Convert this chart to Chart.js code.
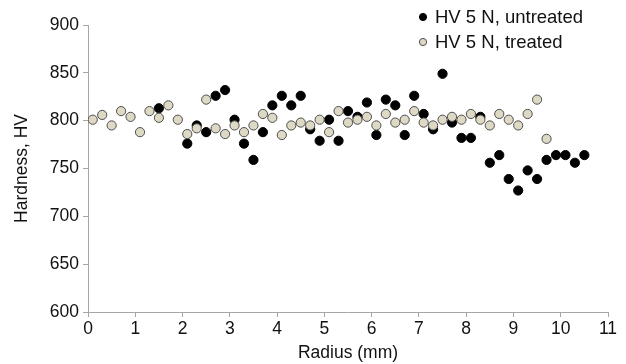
<!DOCTYPE html>
<html>
<head>
<meta charset="utf-8">
<script src="https://cdn.jsdelivr.net/npm/chart.js@4/dist/chart.umd.min.js"></script>
<style>
  html, body { margin: 0; padding: 0; background: #fff; }
  #wrap { width: 626px; height: 364px; }
</style>
</head>
<body>
<div id="wrap"><canvas id="hardness" width="626" height="364"></canvas></div>
<script>
//.. data
const treatedRadius = [0.1, 0.3, 0.5, 0.7, 0.9, 1.1, 1.3, 1.5, 1.7, 1.9, 2.1, 2.3, 2.5, 2.7, 2.9, 3.1, 3.3, 3.5, 3.7, 3.9,
    4.1, 4.3, 4.5, 4.7, 4.9, 5.1, 5.3, 5.5, 5.7, 5.9, 6.1, 6.3, 6.5, 6.7, 6.9, 7.1, 7.3, 7.5, 7.7, 7.9,
    8.1, 8.3, 8.5, 8.7, 8.9, 9.1, 9.3, 9.5, 9.7];
const treatedHV = [801, 806, 795, 810, 804, 788, 810, 803, 816, 801, 786, 792, 822, 792, 786, 795, 788, 795, 807, 803,
    785, 795, 798, 795, 801, 788, 810, 798, 801, 804, 795, 807, 798, 801, 810, 798, 795, 801, 804, 801,
    807, 801, 795, 807, 801, 795, 807, 822, 781];

const untreatedRadius = [1.5, 2.1, 2.3, 2.5, 2.7, 2.9, 3.1, 3.3, 3.5, 3.7, 3.9, 4.1, 4.3, 4.5, 4.7, 4.9, 5.1, 5.3, 5.5, 5.7,
    5.9, 6.1, 6.3, 6.5, 6.7, 6.9, 7.1, 7.3, 7.5, 7.7, 7.9, 8.1, 8.3, 8.5, 8.7, 8.9, 9.1, 9.3, 9.5, 9.7,
    9.9, 10.1, 10.3, 10.5];
const untreatedHV = [813, 776, 795, 788, 826, 832, 801, 776, 759, 788, 816, 826, 816, 826, 791, 779, 801, 779, 810, 804,
    819, 785, 822, 816, 785, 826, 807, 791, 849, 798, 782, 782, 804, 756, 764, 739, 727, 748, 739, 759,
    764, 764, 756, 764];

const xTicks = [0, 1, 2, 3, 4, 5, 6, 7, 8, 9, 10, 11];
const yTicks = [600, 650, 700, 750, 800, 850, 900];
const seriesNames = ['HV 5 N, untreated', 'HV 5 N, treated'];

const FONT = '"Liberation Sans", Arial, sans-serif';
const AXIS = '#a6a6a6';

function toPoints(xs, ys) {
    return xs.map(function (x, i) { return {x: x, y: ys[i]}; });
}

//.. legend drawn in the top right corner, over the plot
const cornerLegend = {
    id: 'cornerLegend',
    afterDraw: function (chart) {
        const ctx = chart.ctx;
        ctx.save();
        ctx.font = '18.5px ' + FONT;
        ctx.textBaseline = 'middle';
        ctx.textAlign = 'left';
        const rows = [chart.data.datasets[0], chart.data.datasets[1]];
        rows.forEach(function (ds, i) {
            const y = 17 + i * 25;
            ctx.beginPath();
            ctx.arc(423, y, 3.6, 0, Math.PI * 2);
            ctx.fillStyle = ds.backgroundColor;
            ctx.fill();
            ctx.lineWidth = 1;
            ctx.strokeStyle = ds.borderColor;
            ctx.stroke();
            ctx.fillStyle = '#111';
            ctx.fillText(ds.label, 435, y + 1);
        });
        ctx.restore();
    }
};

const ctx = document.getElementById('hardness').getContext('2d');
new Chart(ctx, {
    type: 'scatter',
    data: {
        datasets: [{
            label: seriesNames[0],
            data: toPoints(untreatedRadius, untreatedHV),
            backgroundColor: '#000000',
            borderColor: '#000000',
            borderWidth: 1,
            pointRadius: 4.6,
            order: 1
        }, {
            label: seriesNames[1],
            data: toPoints(treatedRadius, treatedHV),
            backgroundColor: '#ddd9c4',
            borderColor: '#4d4d4d',
            borderWidth: 1,
            pointRadius: 4.6,
            order: 0
        }]
    },
    options: {
        responsive: false,
        animation: false,
        layout: {padding: {left: 0, right: 18, top: 25, bottom: 0}},
        plugins: {legend: {display: false}, tooltip: {enabled: false}},
        scales: {
            x: {
                type: 'linear',
                min: 0, max: 11,
                afterBuildTicks: function (axis) {
                    axis.ticks = xTicks.map(function (v) { return {value: v}; });
                },
                afterFit: function (axis) { axis.height = 52; },
                border: {color: AXIS, width: 1},
                grid: {drawOnChartArea: false, color: AXIS, tickLength: 5},
                ticks: {color: '#111', font: {family: FONT, size: 17.5}, padding: 2, maxRotation: 0},
                title: {display: true, text: 'Radius (mm)', color: '#111',
                    font: {family: FONT, size: 17.5}, padding: {top: 0, bottom: 0}}
            },
            y: {
                min: 600, max: 900,
                afterBuildTicks: function (axis) {
                    axis.ticks = yTicks.map(function (v) { return {value: v}; });
                },
                afterFit: function (axis) { axis.width = 88; },
                border: {color: AXIS, width: 1},
                grid: {drawOnChartArea: false, color: AXIS, tickLength: 5},
                ticks: {color: '#111', font: {family: FONT, size: 17.5}, padding: 4},
                title: {display: true, text: 'Hardness, HV', color: '#111',
                    font: {family: FONT, size: 17.5}, padding: {top: 12, bottom: 4}}
            }
        }
    },
    plugins: [cornerLegend]
});
</script>
</body>
</html>
